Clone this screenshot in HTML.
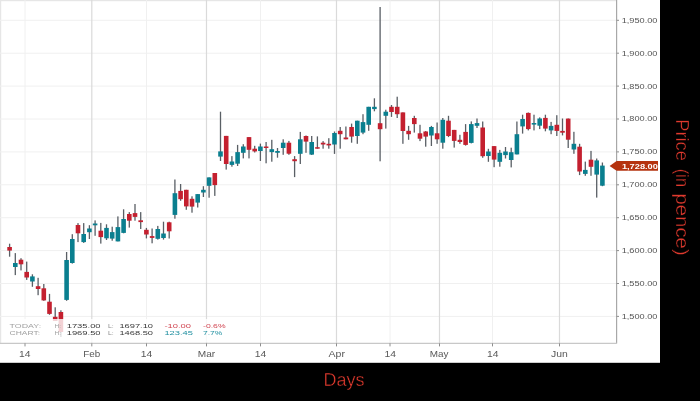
<!DOCTYPE html>
<html><head><meta charset="utf-8"><title>Chart</title>
<style>
html,body{margin:0;padding:0;background:#000;}
body{width:700px;height:401px;overflow:hidden;position:relative;}
svg{display:block;position:absolute;left:0;top:0;}
text{font-family:"Liberation Sans",sans-serif;}
</style></head><body>
<svg width="700" height="401" viewBox="0 0 700 401">
<rect x="0" y="0" width="700" height="401" fill="#000"/>
<rect x="0" y="0" width="660" height="362.8" fill="#fff"/>
<rect x="0" y="0" width="617" height="1.2" fill="#e6e6e6"/>
<rect x="0" y="0" width="1.2" height="343" fill="#e6e6e6"/>
<g stroke="#f0f0f0" stroke-width="1">
<line x1="0" y1="20.3" x2="616" y2="20.3"/>
<line x1="0" y1="53.2" x2="616" y2="53.2"/>
<line x1="0" y1="86.1" x2="616" y2="86.1"/>
<line x1="0" y1="119.0" x2="616" y2="119.0"/>
<line x1="0" y1="151.9" x2="616" y2="151.9"/>
<line x1="0" y1="184.8" x2="616" y2="184.8"/>
<line x1="0" y1="217.7" x2="616" y2="217.7"/>
<line x1="0" y1="250.6" x2="616" y2="250.6"/>
<line x1="0" y1="283.5" x2="616" y2="283.5"/>
<line x1="0" y1="316.4" x2="616" y2="316.4"/>
<line x1="25" y1="0" x2="25" y2="343"/>
<line x1="146.5" y1="0" x2="146.5" y2="343"/>
<line x1="260.5" y1="0" x2="260.5" y2="343"/>
<line x1="390" y1="0" x2="390" y2="343"/>
<line x1="492.5" y1="0" x2="492.5" y2="343"/>
</g>
<g stroke="#dadada" stroke-width="1.2">
<line x1="91.8" y1="0" x2="91.8" y2="343"/>
<line x1="206.5" y1="0" x2="206.5" y2="343"/>
<line x1="336.5" y1="0" x2="336.5" y2="343"/>
<line x1="439.5" y1="0" x2="439.5" y2="343"/>
<line x1="559.5" y1="0" x2="559.5" y2="343"/>
</g>
<g>
<rect x="8.95" y="243.7" width="1.3" height="13.0" fill="#5a5f65"/>
<rect x="7.30" y="247.0" width="4.6" height="3.6" fill="#c4202f"/>
<rect x="14.65" y="253.1" width="1.3" height="22.0" fill="#5a5f65"/>
<rect x="13.00" y="263.0" width="4.6" height="4.0" fill="#0a7f8f"/>
<rect x="20.35" y="258.2" width="1.3" height="12.2" fill="#5a5f65"/>
<rect x="18.70" y="259.7" width="4.6" height="4.6" fill="#c4202f"/>
<rect x="26.05" y="261.6" width="1.3" height="18.3" fill="#5a5f65"/>
<rect x="24.40" y="271.9" width="4.6" height="5.6" fill="#c4202f"/>
<rect x="31.75" y="274.3" width="1.3" height="12.5" fill="#5a5f65"/>
<rect x="30.10" y="276.4" width="4.6" height="5.1" fill="#0a7f8f"/>
<rect x="37.45" y="277.8" width="1.3" height="17.4" fill="#5a5f65"/>
<rect x="35.80" y="286.2" width="4.6" height="2.8" fill="#c4202f"/>
<rect x="43.15" y="284.0" width="1.3" height="16.8" fill="#5a5f65"/>
<rect x="41.50" y="288.3" width="4.6" height="12.1" fill="#c4202f"/>
<rect x="48.85" y="293.9" width="1.3" height="20.9" fill="#5a5f65"/>
<rect x="47.20" y="301.7" width="4.6" height="12.2" fill="#c4202f"/>
<rect x="54.55" y="307.3" width="1.3" height="13.7" fill="#5a5f65"/>
<rect x="52.90" y="316.8" width="4.6" height="4.2" fill="#c4202f"/>
<rect x="60.25" y="310.3" width="1.3" height="26.7" fill="#5a5f65"/>
<rect x="58.60" y="312.0" width="4.6" height="20.0" fill="#c4202f"/>
<rect x="65.95" y="252.0" width="1.3" height="48.8" fill="#5a5f65"/>
<rect x="64.30" y="260.0" width="4.6" height="39.9" fill="#0a7f8f"/>
<rect x="71.65" y="234.2" width="1.3" height="29.4" fill="#5a5f65"/>
<rect x="70.00" y="239.0" width="4.6" height="24.0" fill="#0a7f8f"/>
<rect x="77.35" y="223.1" width="1.3" height="19.0" fill="#5a5f65"/>
<rect x="75.70" y="225.0" width="4.6" height="8.3" fill="#c4202f"/>
<rect x="83.05" y="223.1" width="1.3" height="19.8" fill="#5a5f65"/>
<rect x="81.40" y="234.0" width="4.6" height="8.1" fill="#0a7f8f"/>
<rect x="88.75" y="225.2" width="1.3" height="13.8" fill="#5a5f65"/>
<rect x="87.10" y="228.5" width="4.6" height="3.7" fill="#0a7f8f"/>
<rect x="94.45" y="220.4" width="1.3" height="15.4" fill="#5a5f65"/>
<rect x="92.80" y="223.5" width="4.6" height="1.8" fill="#0a7f8f"/>
<rect x="100.15" y="222.9" width="1.3" height="20.7" fill="#5a5f65"/>
<rect x="98.50" y="230.7" width="4.6" height="6.4" fill="#c4202f"/>
<rect x="105.85" y="224.3" width="1.3" height="15.7" fill="#5a5f65"/>
<rect x="104.20" y="227.9" width="4.6" height="10.4" fill="#0a7f8f"/>
<rect x="111.55" y="226.7" width="1.3" height="14.0" fill="#5a5f65"/>
<rect x="109.90" y="232.1" width="4.6" height="6.5" fill="#0a7f8f"/>
<rect x="117.25" y="216.4" width="1.3" height="25.0" fill="#5a5f65"/>
<rect x="115.60" y="227.1" width="4.6" height="14.3" fill="#0a7f8f"/>
<rect x="122.95" y="209.3" width="1.3" height="24.0" fill="#5a5f65"/>
<rect x="121.30" y="219.0" width="4.6" height="13.9" fill="#0a7f8f"/>
<rect x="128.65" y="212.1" width="1.3" height="15.5" fill="#5a5f65"/>
<rect x="127.00" y="214.0" width="4.6" height="6.7" fill="#c4202f"/>
<rect x="134.35" y="204.0" width="1.3" height="16.7" fill="#5a5f65"/>
<rect x="132.70" y="213.1" width="4.6" height="3.8" fill="#c4202f"/>
<rect x="140.05" y="212.1" width="1.3" height="16.9" fill="#5a5f65"/>
<rect x="138.40" y="220.3" width="4.6" height="1.8" fill="#c4202f"/>
<rect x="145.75" y="227.9" width="1.3" height="10.5" fill="#5a5f65"/>
<rect x="144.10" y="229.8" width="4.6" height="4.7" fill="#c4202f"/>
<rect x="151.45" y="228.5" width="1.3" height="14.8" fill="#5a5f65"/>
<rect x="149.80" y="236.1" width="4.6" height="1.8" fill="#c4202f"/>
<rect x="157.15" y="225.9" width="1.3" height="13.7" fill="#5a5f65"/>
<rect x="155.50" y="229.0" width="4.6" height="9.8" fill="#0a7f8f"/>
<rect x="162.85" y="221.7" width="1.3" height="17.9" fill="#5a5f65"/>
<rect x="161.20" y="233.5" width="4.6" height="4.5" fill="#0a7f8f"/>
<rect x="168.55" y="221.7" width="1.3" height="16.8" fill="#5a5f65"/>
<rect x="166.90" y="222.3" width="4.6" height="9.0" fill="#c4202f"/>
<rect x="174.25" y="179.5" width="1.3" height="39.2" fill="#5a5f65"/>
<rect x="172.60" y="193.2" width="4.6" height="21.7" fill="#0a7f8f"/>
<rect x="179.95" y="184.0" width="1.3" height="16.8" fill="#5a5f65"/>
<rect x="178.30" y="190.9" width="4.6" height="8.3" fill="#c4202f"/>
<rect x="185.65" y="189.8" width="1.3" height="20.0" fill="#5a5f65"/>
<rect x="184.00" y="189.8" width="4.6" height="16.6" fill="#c4202f"/>
<rect x="191.35" y="196.3" width="1.3" height="16.4" fill="#5a5f65"/>
<rect x="189.70" y="198.8" width="4.6" height="7.8" fill="#c4202f"/>
<rect x="197.05" y="194.1" width="1.3" height="13.4" fill="#5a5f65"/>
<rect x="195.40" y="194.1" width="4.6" height="8.5" fill="#0a7f8f"/>
<rect x="202.75" y="186.2" width="1.3" height="10.8" fill="#5a5f65"/>
<rect x="201.10" y="189.8" width="4.6" height="2.7" fill="#0a7f8f"/>
<rect x="208.45" y="177.4" width="1.3" height="20.3" fill="#5a5f65"/>
<rect x="206.80" y="177.4" width="4.6" height="8.4" fill="#0a7f8f"/>
<rect x="214.15" y="173.0" width="1.3" height="22.9" fill="#5a5f65"/>
<rect x="212.50" y="173.0" width="4.6" height="12.1" fill="#c4202f"/>
<rect x="219.85" y="111.7" width="1.3" height="49.3" fill="#5a5f65"/>
<rect x="218.20" y="151.4" width="4.6" height="5.2" fill="#0a7f8f"/>
<rect x="225.55" y="135.9" width="1.3" height="33.7" fill="#5a5f65"/>
<rect x="223.90" y="135.9" width="4.6" height="28.1" fill="#c4202f"/>
<rect x="231.25" y="156.1" width="1.3" height="10.6" fill="#5a5f65"/>
<rect x="229.60" y="161.5" width="4.6" height="3.4" fill="#0a7f8f"/>
<rect x="236.95" y="144.9" width="1.3" height="21.1" fill="#5a5f65"/>
<rect x="235.30" y="152.1" width="4.6" height="11.6" fill="#0a7f8f"/>
<rect x="242.65" y="144.2" width="1.3" height="14.2" fill="#5a5f65"/>
<rect x="241.00" y="146.5" width="4.6" height="6.3" fill="#0a7f8f"/>
<rect x="248.35" y="137.1" width="1.3" height="21.3" fill="#5a5f65"/>
<rect x="246.70" y="137.1" width="4.6" height="12.7" fill="#c4202f"/>
<rect x="254.05" y="145.8" width="1.3" height="6.7" fill="#5a5f65"/>
<rect x="252.40" y="148.7" width="4.6" height="2.7" fill="#c4202f"/>
<rect x="259.75" y="143.6" width="1.3" height="17.4" fill="#5a5f65"/>
<rect x="258.10" y="146.5" width="4.6" height="4.5" fill="#0a7f8f"/>
<rect x="265.45" y="142.0" width="1.3" height="21.3" fill="#5a5f65"/>
<rect x="263.80" y="146.5" width="4.6" height="1.5" fill="#c4202f"/>
<rect x="271.15" y="139.8" width="1.3" height="21.9" fill="#5a5f65"/>
<rect x="269.50" y="149.2" width="4.6" height="2.9" fill="#0a7f8f"/>
<rect x="276.85" y="148.0" width="1.3" height="9.7" fill="#5a5f65"/>
<rect x="275.20" y="151.0" width="4.6" height="1.8" fill="#0a7f8f"/>
<rect x="282.55" y="139.3" width="1.3" height="15.5" fill="#5a5f65"/>
<rect x="280.90" y="142.7" width="4.6" height="5.3" fill="#0a7f8f"/>
<rect x="288.25" y="140.9" width="1.3" height="13.9" fill="#5a5f65"/>
<rect x="286.60" y="142.7" width="4.6" height="11.0" fill="#c4202f"/>
<rect x="293.95" y="156.1" width="1.3" height="21.0" fill="#5a5f65"/>
<rect x="292.30" y="159.2" width="4.6" height="2.0" fill="#c4202f"/>
<rect x="299.65" y="131.9" width="1.3" height="32.1" fill="#5a5f65"/>
<rect x="298.00" y="139.3" width="4.6" height="14.5" fill="#0a7f8f"/>
<rect x="305.35" y="135.5" width="1.3" height="17.3" fill="#5a5f65"/>
<rect x="303.70" y="136.0" width="4.6" height="5.6" fill="#c4202f"/>
<rect x="311.05" y="136.0" width="1.3" height="19.0" fill="#5a5f65"/>
<rect x="309.40" y="142.0" width="4.6" height="12.6" fill="#0a7f8f"/>
<rect x="316.75" y="136.4" width="1.3" height="12.3" fill="#5a5f65"/>
<rect x="315.10" y="147.2" width="4.6" height="1.5" fill="#c4202f"/>
<rect x="322.45" y="141.1" width="1.3" height="7.6" fill="#5a5f65"/>
<rect x="320.80" y="142.7" width="4.6" height="1.8" fill="#c4202f"/>
<rect x="328.15" y="138.2" width="1.3" height="10.5" fill="#5a5f65"/>
<rect x="326.50" y="143.8" width="4.6" height="1.6" fill="#c4202f"/>
<rect x="333.85" y="131.5" width="1.3" height="22.4" fill="#5a5f65"/>
<rect x="332.20" y="133.0" width="4.6" height="11.5" fill="#0a7f8f"/>
<rect x="339.55" y="127.0" width="1.3" height="21.7" fill="#5a5f65"/>
<rect x="337.90" y="130.8" width="4.6" height="3.4" fill="#c4202f"/>
<rect x="345.25" y="126.5" width="1.3" height="12.8" fill="#5a5f65"/>
<rect x="343.60" y="137.5" width="4.6" height="1.8" fill="#c4202f"/>
<rect x="350.95" y="123.6" width="1.3" height="19.1" fill="#5a5f65"/>
<rect x="349.30" y="127.0" width="4.6" height="9.6" fill="#c4202f"/>
<rect x="356.65" y="120.7" width="1.3" height="23.1" fill="#5a5f65"/>
<rect x="355.00" y="120.7" width="4.6" height="15.3" fill="#0a7f8f"/>
<rect x="362.35" y="114.2" width="1.3" height="20.0" fill="#5a5f65"/>
<rect x="360.70" y="122.1" width="4.6" height="10.5" fill="#0a7f8f"/>
<rect x="368.05" y="106.8" width="1.3" height="24.0" fill="#5a5f65"/>
<rect x="366.40" y="106.8" width="4.6" height="18.0" fill="#0a7f8f"/>
<rect x="373.75" y="98.3" width="1.3" height="13.0" fill="#5a5f65"/>
<rect x="372.10" y="106.8" width="4.6" height="2.3" fill="#0a7f8f"/>
<rect x="379.45" y="7.0" width="1.3" height="154.3" fill="#5a5f65"/>
<rect x="377.80" y="123.2" width="4.6" height="6.0" fill="#c4202f"/>
<rect x="385.15" y="109.7" width="1.3" height="18.9" fill="#5a5f65"/>
<rect x="383.50" y="111.7" width="4.6" height="4.1" fill="#0a7f8f"/>
<rect x="390.85" y="105.0" width="1.3" height="11.9" fill="#5a5f65"/>
<rect x="389.20" y="106.8" width="4.6" height="5.2" fill="#c4202f"/>
<rect x="396.55" y="96.7" width="1.3" height="21.3" fill="#5a5f65"/>
<rect x="394.90" y="106.8" width="4.6" height="7.4" fill="#c4202f"/>
<rect x="402.25" y="112.4" width="1.3" height="31.4" fill="#5a5f65"/>
<rect x="400.60" y="112.4" width="4.6" height="18.6" fill="#c4202f"/>
<rect x="407.95" y="125.9" width="1.3" height="13.9" fill="#5a5f65"/>
<rect x="406.30" y="130.8" width="4.6" height="3.4" fill="#c4202f"/>
<rect x="413.65" y="115.8" width="1.3" height="16.8" fill="#5a5f65"/>
<rect x="412.00" y="118.0" width="4.6" height="6.1" fill="#c4202f"/>
<rect x="419.35" y="124.8" width="1.3" height="16.3" fill="#5a5f65"/>
<rect x="417.70" y="133.3" width="4.6" height="5.4" fill="#c4202f"/>
<rect x="425.05" y="131.0" width="1.3" height="15.7" fill="#5a5f65"/>
<rect x="423.40" y="131.5" width="4.6" height="5.1" fill="#c4202f"/>
<rect x="430.75" y="125.9" width="1.3" height="20.1" fill="#5a5f65"/>
<rect x="429.10" y="127.0" width="4.6" height="8.5" fill="#0a7f8f"/>
<rect x="436.45" y="122.5" width="1.3" height="21.3" fill="#5a5f65"/>
<rect x="434.80" y="133.3" width="4.6" height="6.0" fill="#c4202f"/>
<rect x="442.15" y="118.0" width="1.3" height="30.7" fill="#5a5f65"/>
<rect x="440.50" y="119.8" width="4.6" height="22.9" fill="#0a7f8f"/>
<rect x="447.85" y="115.8" width="1.3" height="21.3" fill="#5a5f65"/>
<rect x="446.20" y="120.7" width="4.6" height="15.3" fill="#c4202f"/>
<rect x="453.55" y="129.9" width="1.3" height="17.7" fill="#5a5f65"/>
<rect x="451.90" y="129.9" width="4.6" height="11.0" fill="#c4202f"/>
<rect x="459.25" y="134.8" width="1.3" height="9.0" fill="#5a5f65"/>
<rect x="457.60" y="139.8" width="4.6" height="2.2" fill="#c4202f"/>
<rect x="464.95" y="124.1" width="1.3" height="21.5" fill="#5a5f65"/>
<rect x="463.30" y="131.9" width="4.6" height="13.0" fill="#c4202f"/>
<rect x="470.65" y="121.4" width="1.3" height="22.0" fill="#5a5f65"/>
<rect x="469.00" y="124.1" width="4.6" height="18.8" fill="#0a7f8f"/>
<rect x="476.35" y="118.5" width="1.3" height="9.5" fill="#5a5f65"/>
<rect x="474.70" y="123.1" width="4.6" height="2.7" fill="#0a7f8f"/>
<rect x="482.05" y="121.5" width="1.3" height="36.3" fill="#5a5f65"/>
<rect x="480.40" y="127.5" width="4.6" height="28.7" fill="#c4202f"/>
<rect x="487.75" y="148.8" width="1.3" height="13.0" fill="#5a5f65"/>
<rect x="486.10" y="151.5" width="4.6" height="4.5" fill="#0a7f8f"/>
<rect x="493.45" y="146.1" width="1.3" height="21.1" fill="#5a5f65"/>
<rect x="491.80" y="146.1" width="4.6" height="13.5" fill="#c4202f"/>
<rect x="499.15" y="149.9" width="1.3" height="16.8" fill="#5a5f65"/>
<rect x="497.50" y="152.8" width="4.6" height="9.0" fill="#0a7f8f"/>
<rect x="504.85" y="147.0" width="1.3" height="11.5" fill="#5a5f65"/>
<rect x="503.20" y="151.5" width="4.6" height="3.6" fill="#0a7f8f"/>
<rect x="510.55" y="147.7" width="1.3" height="19.7" fill="#5a5f65"/>
<rect x="508.90" y="152.2" width="4.6" height="7.8" fill="#0a7f8f"/>
<rect x="516.25" y="121.5" width="1.3" height="32.9" fill="#5a5f65"/>
<rect x="514.60" y="134.2" width="4.6" height="20.2" fill="#0a7f8f"/>
<rect x="521.95" y="114.7" width="1.3" height="18.9" fill="#5a5f65"/>
<rect x="520.30" y="119.0" width="4.6" height="7.4" fill="#0a7f8f"/>
<rect x="527.65" y="112.5" width="1.3" height="17.9" fill="#5a5f65"/>
<rect x="526.00" y="112.9" width="4.6" height="16.2" fill="#c4202f"/>
<rect x="533.35" y="114.7" width="1.3" height="15.7" fill="#5a5f65"/>
<rect x="531.70" y="123.0" width="4.6" height="1.6" fill="#0a7f8f"/>
<rect x="539.05" y="117.4" width="1.3" height="11.7" fill="#5a5f65"/>
<rect x="537.40" y="118.5" width="4.6" height="7.2" fill="#0a7f8f"/>
<rect x="544.75" y="114.7" width="1.3" height="16.6" fill="#5a5f65"/>
<rect x="543.10" y="117.9" width="4.6" height="10.7" fill="#c4202f"/>
<rect x="550.45" y="121.9" width="1.3" height="12.3" fill="#5a5f65"/>
<rect x="548.80" y="125.9" width="4.6" height="4.5" fill="#0a7f8f"/>
<rect x="556.15" y="115.2" width="1.3" height="20.8" fill="#5a5f65"/>
<rect x="554.50" y="124.8" width="4.6" height="6.1" fill="#c4202f"/>
<rect x="561.85" y="118.5" width="1.3" height="16.9" fill="#5a5f65"/>
<rect x="560.20" y="130.9" width="4.6" height="1.8" fill="#c4202f"/>
<rect x="567.55" y="118.5" width="1.3" height="29.5" fill="#5a5f65"/>
<rect x="565.90" y="118.6" width="4.6" height="21.1" fill="#c4202f"/>
<rect x="573.25" y="131.8" width="1.3" height="22.0" fill="#5a5f65"/>
<rect x="571.60" y="143.8" width="4.6" height="5.7" fill="#0a7f8f"/>
<rect x="578.95" y="143.8" width="1.3" height="31.3" fill="#5a5f65"/>
<rect x="577.30" y="146.7" width="4.6" height="24.8" fill="#c4202f"/>
<rect x="584.65" y="161.6" width="1.3" height="14.2" fill="#5a5f65"/>
<rect x="583.00" y="169.9" width="4.6" height="4.0" fill="#0a7f8f"/>
<rect x="590.35" y="150.9" width="1.3" height="24.9" fill="#5a5f65"/>
<rect x="588.70" y="159.7" width="4.6" height="7.1" fill="#c4202f"/>
<rect x="596.05" y="158.5" width="1.3" height="39.1" fill="#5a5f65"/>
<rect x="594.40" y="160.4" width="4.6" height="14.2" fill="#0a7f8f"/>
<rect x="601.75" y="162.5" width="1.3" height="23.7" fill="#5a5f65"/>
<rect x="600.10" y="165.6" width="4.6" height="20.1" fill="#0a7f8f"/>
</g>
<rect x="4" y="319" width="228" height="23.6" fill="#fff" fill-opacity="0.8"/>
<g stroke="#a8a8a8" stroke-width="1.2">
<line x1="616.6" y1="0" x2="616.6" y2="343.5"/>
</g>
<line x1="0" y1="343.3" x2="617" y2="343.3" stroke="#c8c8c8" stroke-width="1.3"/>
<g stroke="#8e8e8e" stroke-width="1">
<line x1="25" y1="343.3" x2="25" y2="346.4"/>
<line x1="91.8" y1="343.3" x2="91.8" y2="346.4"/>
<line x1="146.5" y1="343.3" x2="146.5" y2="346.4"/>
<line x1="206.5" y1="343.3" x2="206.5" y2="346.4"/>
<line x1="260.5" y1="343.3" x2="260.5" y2="346.4"/>
<line x1="336.5" y1="343.3" x2="336.5" y2="346.4"/>
<line x1="390" y1="343.3" x2="390" y2="346.4"/>
<line x1="439.5" y1="343.3" x2="439.5" y2="346.4"/>
<line x1="492.5" y1="343.3" x2="492.5" y2="346.4"/>
<line x1="559.5" y1="343.3" x2="559.5" y2="346.4"/>
<line x1="616.6" y1="20.3" x2="619" y2="20.3"/>
<line x1="616.6" y1="53.2" x2="619" y2="53.2"/>
<line x1="616.6" y1="86.1" x2="619" y2="86.1"/>
<line x1="616.6" y1="119.0" x2="619" y2="119.0"/>
<line x1="616.6" y1="151.9" x2="619" y2="151.9"/>
<line x1="616.6" y1="184.8" x2="619" y2="184.8"/>
<line x1="616.6" y1="217.7" x2="619" y2="217.7"/>
<line x1="616.6" y1="250.6" x2="619" y2="250.6"/>
<line x1="616.6" y1="283.5" x2="619" y2="283.5"/>
<line x1="616.6" y1="316.4" x2="619" y2="316.4"/>
</g>
<g font-size="6.8" fill="#555">
<text x="621.7" y="22.8" textLength="35.8" lengthAdjust="spacingAndGlyphs">1,950.00</text>
<text x="621.7" y="55.6" textLength="35.8" lengthAdjust="spacingAndGlyphs">1,900.00</text>
<text x="621.7" y="88.6" textLength="35.8" lengthAdjust="spacingAndGlyphs">1,850.00</text>
<text x="621.7" y="121.4" textLength="35.8" lengthAdjust="spacingAndGlyphs">1,800.00</text>
<text x="621.7" y="154.3" textLength="35.8" lengthAdjust="spacingAndGlyphs">1,750.00</text>
<text x="621.7" y="187.2" textLength="35.8" lengthAdjust="spacingAndGlyphs">1,700.00</text>
<text x="621.7" y="220.1" textLength="35.8" lengthAdjust="spacingAndGlyphs">1,650.00</text>
<text x="621.7" y="253.0" textLength="35.8" lengthAdjust="spacingAndGlyphs">1,600.00</text>
<text x="621.7" y="285.9" textLength="35.8" lengthAdjust="spacingAndGlyphs">1,550.00</text>
<text x="621.7" y="318.8" textLength="35.8" lengthAdjust="spacingAndGlyphs">1,500.00</text>
</g>
<g font-size="8.4" fill="#585858" text-anchor="middle">
<text x="24.8" y="356.7" textLength="11.5" lengthAdjust="spacingAndGlyphs">14</text>
<text x="91.7" y="356.7" textLength="17" lengthAdjust="spacingAndGlyphs">Feb</text>
<text x="146.4" y="356.7" textLength="11.5" lengthAdjust="spacingAndGlyphs">14</text>
<text x="206.5" y="356.7" textLength="17.4" lengthAdjust="spacingAndGlyphs">Mar</text>
<text x="260.4" y="356.7" textLength="11.5" lengthAdjust="spacingAndGlyphs">14</text>
<text x="336.8" y="356.7" textLength="16.4" lengthAdjust="spacingAndGlyphs">Apr</text>
<text x="390.2" y="356.7" textLength="11.5" lengthAdjust="spacingAndGlyphs">14</text>
<text x="439.2" y="356.7" textLength="18.7" lengthAdjust="spacingAndGlyphs">May</text>
<text x="492.8" y="356.7" textLength="11.5" lengthAdjust="spacingAndGlyphs">14</text>
<text x="559.4" y="356.7" textLength="16.8" lengthAdjust="spacingAndGlyphs">Jun</text>
</g>
<g font-size="5.5">
<text x="9.6" y="327.8" textLength="31.5" lengthAdjust="spacingAndGlyphs" fill="#a0a0a0">TODAY:</text>
<text x="54.5" y="327.8" textLength="6.5" lengthAdjust="spacingAndGlyphs" fill="#a0a0a0">H:</text>
<text x="66.7" y="327.8" textLength="33.9" lengthAdjust="spacingAndGlyphs" fill="#383838">1735.00</text>
<text x="108" y="327.8" textLength="5.8" lengthAdjust="spacingAndGlyphs" fill="#8c8c8c">L:</text>
<text x="119.4" y="327.8" textLength="33.6" lengthAdjust="spacingAndGlyphs" fill="#383838">1697.10</text>
<text x="164.4" y="327.8" textLength="26.6" lengthAdjust="spacingAndGlyphs" fill="#d0434f">-10.00</text>
<text x="203" y="327.8" textLength="22.6" lengthAdjust="spacingAndGlyphs" fill="#d0434f">-0.6%</text>
<text x="9.6" y="334.8" textLength="30.4" lengthAdjust="spacingAndGlyphs" fill="#a0a0a0">CHART:</text>
<text x="54.5" y="334.8" textLength="6.5" lengthAdjust="spacingAndGlyphs" fill="#a0a0a0">H:</text>
<text x="66.7" y="334.8" textLength="33.9" lengthAdjust="spacingAndGlyphs" fill="#383838">1969.50</text>
<text x="108" y="334.8" textLength="5.8" lengthAdjust="spacingAndGlyphs" fill="#8c8c8c">L:</text>
<text x="119.4" y="334.8" textLength="33.6" lengthAdjust="spacingAndGlyphs" fill="#383838">1468.50</text>
<text x="164.4" y="334.8" textLength="28.6" lengthAdjust="spacingAndGlyphs" fill="#1f8fa0">123.45</text>
<text x="203" y="334.8" textLength="19.4" lengthAdjust="spacingAndGlyphs" fill="#1f8fa0">7.7%</text>
</g>
<path d="M609.6 165.9 L616.6 161 L658 161 L658 170.7 L616.6 170.7 Z" fill="#b5330f"/>
<text x="621.9" y="168.7" font-size="6.9" font-weight="bold" fill="#fff" textLength="36" lengthAdjust="spacingAndGlyphs">1,728.00</text>
<text x="323.6" y="386.1" font-size="18" fill="#e03a2e" stroke="#000" stroke-width="0.4" textLength="41" lengthAdjust="spacingAndGlyphs">Days</text>
<g transform="translate(675.9 0) rotate(90)" font-size="18.6" fill="#e03a2e" stroke="#000" stroke-width="0.4">
<text y="0"><tspan x="119.2" textLength="41.7" lengthAdjust="spacingAndGlyphs">Price</tspan> <tspan x="168.8" textLength="18.2" lengthAdjust="spacingAndGlyphs">(in</tspan> <tspan x="193.4" textLength="62.3" lengthAdjust="spacingAndGlyphs">pence)</tspan></text>
</g>
</svg></body></html>
